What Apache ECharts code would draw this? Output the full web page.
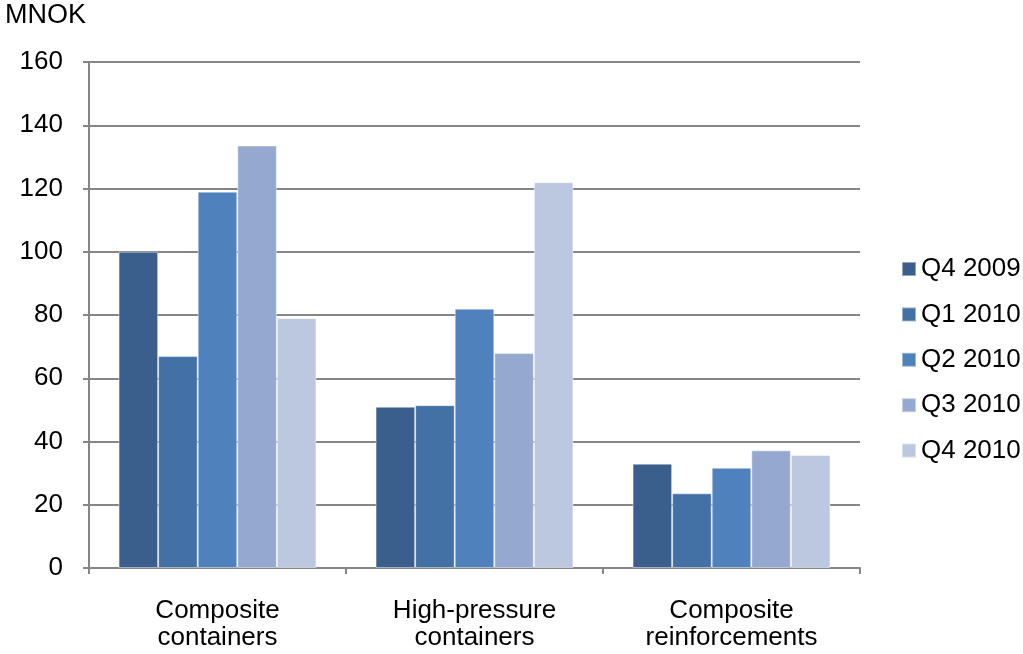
<!DOCTYPE html>
<html>
<head>
<meta charset="utf-8">
<script src="https://cdn.jsdelivr.net/npm/echarts@6/dist/echarts.min.js"></script>
<style>
html,body{margin:0;padding:0;background:#fff;}
#c{width:1023px;height:654px;}
</style>
</head>
<body>
<div id="c"></div>
<script>
const categories = ['Composite\ncontainers', 'High-pressure\ncontainers', 'Composite\nreinforcements'];
const seriesNames = ['Q4 2009', 'Q1 2010', 'Q2 2010', 'Q3 2010', 'Q4 2010'];
const q4_2009 = [100, 51, 33];
const q1_2010 = [67, 51.5, 23.6];
const q2_2010 = [119, 82, 31.7];
const q3_2010 = [133.6, 68, 37.2];
const q4_2010 = [79, 122, 35.7];
const seriesValues = [q4_2009, q1_2010, q2_2010, q3_2010, q4_2010];
const colors = ['#3A5F8C', '#4471A5', '#4F81BD', '#95A9D0', '#BCC8E0'];
const yTicks = { min: 0, max: 160, interval: 20 };

const chart = echarts.init(document.getElementById('c'));
const font = 'Liberation Sans, Arial, sans-serif';
chart.setOption({
  animation: false,
  backgroundColor: '#fff',
  textStyle: { fontFamily: font },
  graphic: [{
    type: 'text', left: 5, top: 2,
    style: { text: 'MNOK', fontSize: 27, fontFamily: font, fill: '#000' }
  }],
  legend: {
    orient: 'vertical', left: 896, top: 251,
    itemWidth: 14, itemHeight: 14, itemGap: 19.4,
    icon: 'rect',
    textStyle: { fontSize: 26, color: '#000', fontFamily: font, padding: [0, 0, 0, 0] },
    data: seriesNames
  },
  grid: { left: 89, right: 163, top: 62, bottom: 86, containLabel: false },
  xAxis: {
    type: 'category', data: categories,
    axisLine: { lineStyle: { color: '#868686', width: 2 } },
    axisTick: { show: true, length: 6, lineStyle: { color: '#868686', width: 2 }, alignWithLabel: false },
    axisLabel: { fontSize: 26, color: '#000', margin: 29, lineHeight: 27, fontFamily: font }
  },
  yAxis: {
    type: 'value', min: yTicks.min, max: yTicks.max, interval: yTicks.interval,
    axisLine: { show: true, lineStyle: { color: '#868686', width: 2 } },
    axisTick: { show: true, length: 6, lineStyle: { color: '#868686', width: 2 } },
    splitLine: { lineStyle: { color: '#868686', width: 2 } },
    axisLabel: { fontSize: 26, color: '#000', margin: 26, fontFamily: font }
  },
  series: seriesNames.map((n, i) => ({
    name: n, type: 'bar', data: seriesValues[i],
    barGap: '0%', barCategoryGap: '23%',
    itemStyle: { color: colors[i], borderColor: 'rgba(255,255,255,0.45)', borderWidth: 1 }
  }))
});
</script>
</body>
</html>
